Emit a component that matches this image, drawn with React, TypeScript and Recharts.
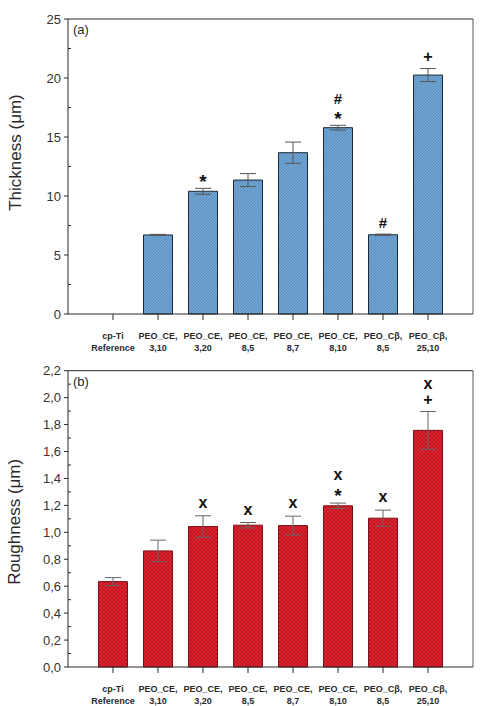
import React from "react";
import { BarChart, Bar, XAxis, YAxis, ErrorBar, LabelList, Label } from "recharts";

// two-line category labels under the bars
const categories: [string, string][] = [
  ["cp-Ti", "Reference"],
  ["PEO_CE,", "3,10"],
  ["PEO_CE,", "3,20"],
  ["PEO_CE,", "8,5"],
  ["PEO_CE,", "8,7"],
  ["PEO_CE,", "8,10"],
  ["PEO_Cβ,", "8,5"],
  ["PEO_Cβ,", "25,10"],
];

// (a) coating thickness, µm
const thickness = [null, 6.7, 10.4, 11.35, 13.67, 15.79, 6.72, 20.25];
const thicknessErr = [null, 0.05, 0.25, 0.55, 0.9, 0.2, 0.05, 0.55];
const thicknessMarks = [[], [], ["*"], [], [], ["#", "*"], ["#"], ["+"]];

// (b) roughness, µm
const roughness = [0.634, 0.862, 1.043, 1.053, 1.05, 1.197, 1.105, 1.757];
const roughnessErr = [0.03, 0.08, 0.08, 0.02, 0.07, 0.02, 0.06, 0.14];
const roughnessMarks = [[], [], ["x"], ["x"], ["x"], ["x", "*"], ["x"], ["x", "+"]];

const thicknessTicks = [0, 5, 10, 15, 20, 25];
const thicknessMinor = [0, 2.5, 5, 7.5, 10, 12.5, 15, 17.5, 20, 22.5, 25];
const roughnessTicks = [0, 0.2, 0.4, 0.6, 0.8, 1.0, 1.2, 1.4, 1.6, 1.8, 2.0, 2.2];
const roughnessMinor = [
  0, 0.1, 0.2, 0.3, 0.4, 0.5, 0.6, 0.7, 0.8, 0.9, 1.0, 1.1, 1.2, 1.3, 1.4, 1.5,
  1.6, 1.7, 1.8, 1.9, 2.0, 2.1, 2.2,
];

const FONT = "Arial, 'Liberation Sans', sans-serif";
const INK = "#2a2a2a";

const near = (v: number, list: number[]) => list.some((t) => Math.abs(t - v) < 1e-6);
const names = categories.map((c) => c.join("|"));

// category tick: two lines of small bold text
const CategoryTick = (props: any) => {
  const { x, y, payload } = props;
  const lines = String(payload.value).split("|");
  return (
    <text x={x} y={y} textAnchor="middle" fontFamily={FONT} fontSize={9} fontWeight="bold" fill={INK}>
      <tspan x={x} dy={17}>{lines[0]}</tspan>
      <tspan x={x} dy={12}>{lines[1]}</tspan>
    </text>
  );
};

// left axis: labelled major ticks pointing out, minor ticks pointing in
const makeLeftTick = (majors: number[], fmt: (v: number) => string) => (props: any) => {
  const { x, y, payload } = props;
  const ax = x + 7;
  const major = near(payload.value, majors);
  return (
    <g>
      {major ? (
        <>
          <line x1={ax - 4} x2={ax} y1={y} y2={y} stroke={INK} />
          <text x={ax - 7} y={y} dy="0.36em" textAnchor="end" fontFamily={FONT} fontSize={13} fill="#333">
            {fmt(payload.value)}
          </text>
        </>
      ) : (
        <line x1={ax} x2={ax + 3} y1={y} y2={y} stroke={INK} />
      )}
    </g>
  );
};

// right axis: ticks only, pointing into the plot
const makeRightTick = (majors: number[]) => (props: any) => {
  const { x, y, payload } = props;
  const major = near(payload.value, majors);
  return <line x1={major ? x - 4 : x - 3} x2={major ? x + 3 : x} y1={y} y2={y} stroke={INK} />;
};

const AxisTitle = (props: any) => {
  const { viewBox, text, dy } = props;
  const cx = viewBox.x + 15;
  const cy = viewBox.y + viewBox.height / 2 + dy;
  return (
    <text
      x={cx}
      y={cy}
      transform={`rotate(-90 ${cx} ${cy})`}
      textAnchor="middle"
      dominantBaseline="central"
      fontFamily={FONT}
      fontSize={17}
      fill={INK}
    >
      {text}
    </text>
  );
};

const PanelTag = (props: any) => {
  const { viewBox, text } = props;
  return (
    <text x={viewBox.x + 5} y={viewBox.y + 16} fontFamily={FONT} fontSize={13} fill={INK}>
      {text}
    </text>
  );
};

// glyph size and centre offset (fraction of font size above baseline)
const glyphSize: Record<string, number> = { "*": 19, "#": 15, "+": 16, x: 16 };
const glyphLift: Record<string, number> = { "*": 0.6, "#": 0.36, "+": 0.36, x: 0.27 };

const makeMarks = (values: (number | null)[], errs: (number | null)[], marks: string[][]) => (props: any) => {
  const { x, y, width, height, value } = props;
  const i = names.indexOf(String(value));
  const v = values[i];
  const list = marks[i];
  if (i < 0 || v == null || !list || list.length === 0) return null;
  const pxPerUnit = height / v;
  const errTop = y - (errs[i] ?? 0) * pxPerUnit;
  const cx = x + width / 2;
  return (
    <g>
      {[...list].reverse().map((m, k) => {
        const centre = errTop - 12 - k * 15;
        const fs = glyphSize[m];
        return (
          <text
            key={k}
            x={cx}
            y={centre + glyphLift[m] * fs}
            textAnchor="middle"
            fontFamily={FONT}
            fontSize={fs}
            fontWeight="bold"
            fill="#111"
          >
            {m}
          </text>
        );
      })}
    </g>
  );
};

const thicknessData = categories.map((c, i) => ({
  name: names[i],
  value: thickness[i],
  err: thicknessErr[i],
}));

const roughnessData = categories.map((c, i) => ({
  name: names[i],
  value: roughness[i],
  err: roughnessErr[i],
}));

const comma = (v: number) => v.toFixed(1).replace(".", ",");

interface PanelProps {
  data: { name: string; value: number | null; err: number | null }[];
  values: (number | null)[];
  errs: (number | null)[];
  marks: string[][];
  domain: [number, number];
  majors: number[];
  minors: number[];
  fmt: (v: number) => string;
  fill: string;
  stroke: string;
  errColor: string;
  title: string;
  titleDy: number;
  tag: string;
  top: number;
  marginTop: number;
  xHeight: number;
  marginBottom: number;
}

const Panel = (p: PanelProps) => (
  <div style={{ position: "absolute", left: 0, top: p.top }}>
    <BarChart
      width={487}
      height={356}
      data={p.data}
      margin={{ top: p.marginTop, right: 13, bottom: p.marginBottom, left: 0 }}
      barCategoryGap={8}
    >
      <XAxis
        dataKey="name"
        type="category"
        padding={{ left: 22.5, right: 22.5 }}
        height={p.xHeight}
        interval={0}
        tickSize={6}
        tickMargin={2}
        stroke={INK}
        tickLine={{ stroke: INK }}
        axisLine={{ stroke: INK }}
        tick={<CategoryTick />}
      />
      <XAxis xAxisId="top" orientation="top" dataKey="name" height={1} tick={false} tickLine={false} axisLine={{ stroke: INK }}>
        <Label content={<PanelTag text={p.tag} />} />
      </XAxis>
      <YAxis
        domain={p.domain}
        ticks={p.minors}
        interval={0}
        width={68}
        tickSize={4}
        tickMargin={3}
        tickLine={false}
        axisLine={{ stroke: INK }}
        tick={makeLeftTick(p.majors, p.fmt)}
      >
        <Label content={<AxisTitle text={p.title} dy={p.titleDy} />} />
      </YAxis>
      <YAxis
        yAxisId="right"
        orientation="right"
        domain={p.domain}
        ticks={p.minors}
        interval={0}
        width={1}
        tickSize={0}
        tickMargin={0}
        tickLine={false}
        axisLine={{ stroke: "#555" }}
        tick={makeRightTick(p.majors)}
      />
      <Bar dataKey="value" fill={p.fill} stroke={p.stroke} strokeWidth={1} isAnimationActive={false}>
        <ErrorBar dataKey="err" width={8} stroke={p.errColor} strokeWidth={1} direction="y" />
        <LabelList dataKey="name" content={makeMarks(p.values, p.errs, p.marks)} />
      </Bar>
    </BarChart>
  </div>
);

export default function App() {
  return (
    <div style={{ position: "absolute", left: 0, top: 0, width: 487, height: 706, background: "#fff" }}>
      <svg width={0} height={0} style={{ position: "absolute" }}>
        <defs>
          <pattern id="blueHatch" patternUnits="userSpaceOnUse" width={3} height={3}>
            <rect width={3} height={3} fill="#70a4d2" />
            <path d="M-1,1 l2,-2 M0,3 l3,-3 M2,4 l2,-2" stroke="#4f83b3" strokeWidth={0.7} />
          </pattern>
          <pattern id="redCross" patternUnits="userSpaceOnUse" width={4} height={4}>
            <rect width={4} height={4} fill="#e3232f" />
            <path d="M0,0 l4,4 M4,0 l-4,4" stroke="#a9111d" strokeWidth={0.7} />
          </pattern>
        </defs>
      </svg>
      <Panel
        data={thicknessData}
        values={thickness}
        errs={thicknessErr}
        marks={thicknessMarks}
        domain={[0, 25]}
        majors={thicknessTicks}
        minors={thicknessMinor}
        fmt={(v) => String(v)}
        fill="url(#blueHatch)"
        stroke="#1c2a38"
        errColor="#555"
        title="Thickness (μm)"
        titleDy={-14}
        tag="(a)"
        top={0}
        marginTop={18}
        xHeight={38}
        marginBottom={4}
      />
      <Panel
        data={roughnessData}
        values={roughness}
        errs={roughnessErr}
        marks={roughnessMarks}
        domain={[0, 2.2]}
        majors={roughnessTicks}
        minors={roughnessMinor}
        fmt={comma}
        fill="url(#redCross)"
        stroke="#7a1018"
        errColor="#666"
        title="Roughness (μm)"
        titleDy={3}
        tag="(b)"
        top={350}
        marginTop={19.7}
        xHeight={39}
        marginBottom={0}
      />
    </div>
  );
}
